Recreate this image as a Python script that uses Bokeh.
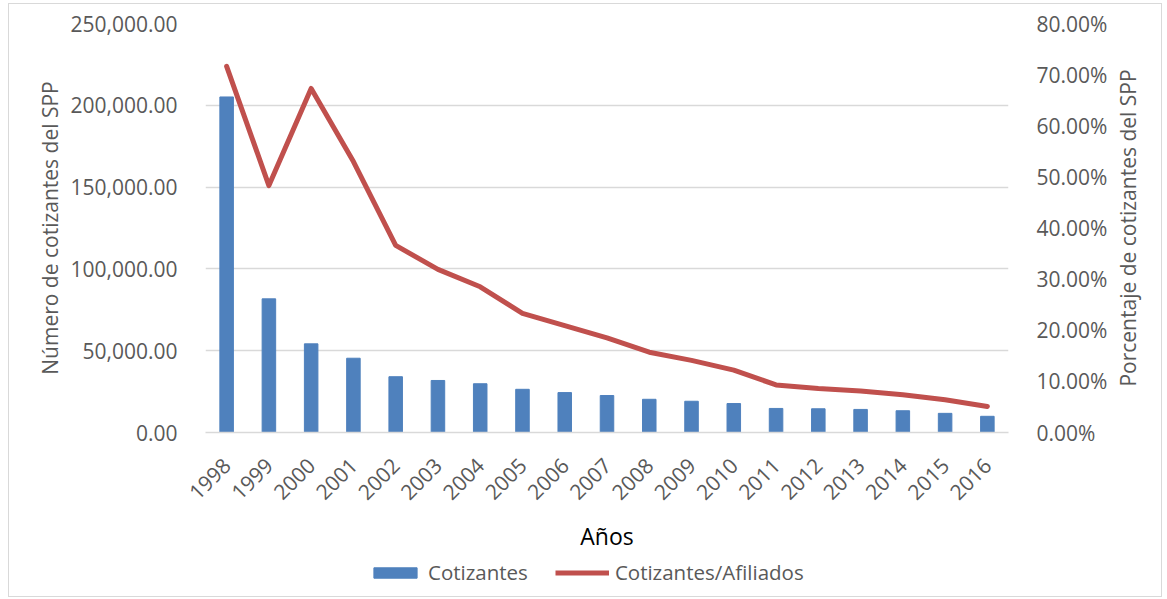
from math import pi

from bokeh.embed import file_html
from bokeh.resources import INLINE
from bokeh.plotting import figure
from bokeh.layouts import column, row
from bokeh.models import (
    Range1d, LinearAxis, FixedTicker, NumeralTickFormatter, Legend, LegendItem,
    ColumnDataSource, Label,
)

# Data: contributors of the private pension system (SPP) by year
years = ["1998", "1999", "2000", "2001", "2002", "2003", "2004", "2005", "2006", "2007",
         "2008", "2009", "2010", "2011", "2012", "2013", "2014", "2015", "2016"]
cotizantes = [205100, 81700, 54200, 45400, 34100, 31800, 29800, 26400, 24400, 22600,
              20300, 19100, 17700, 14700, 14500, 14100, 13300, 11700, 9900]
ratio_afiliados = [0.716, 0.483, 0.673, 0.530, 0.366, 0.319, 0.285, 0.233, 0.209, 0.185,
                   0.157, 0.141, 0.122, 0.093, 0.086, 0.081, 0.074, 0.064, 0.051]

left_ticks = [0, 50000, 100000, 150000, 200000, 250000]
right_ticks = [0.0, 0.1, 0.2, 0.3, 0.4, 0.5, 0.6, 0.7, 0.8]

FONT = "Open Sans"
TEXT = "#595959"
GRID = "#D9D9D9"
BLUE = "#4F81BD"
RED = "#C0504D"

MAIN_H = 550
TOP, BOTTOM = 19, 118

p = figure(
    width=1101, height=MAIN_H,
    x_range=years, y_range=Range1d(0, 250000),
    output_backend="svg", toolbar_location=None,
    min_border_left=196, min_border_right=101,
    min_border_top=TOP, min_border_bottom=BOTTOM,
)
p.x_range.range_padding = 0
p.outline_line_color = None
p.background_fill_color = "white"
p.border_fill_color = "white"

p.extra_y_ranges = {"pct": Range1d(0, 0.8)}

# Gridlines
p.xgrid.grid_line_color = None
p.ygrid.grid_line_color = GRID
p.ygrid.grid_line_width = 1.3
p.ygrid.ticker = FixedTicker(ticks=left_ticks)

# Left axis
ax_l = p.yaxis[0]
ax_l.ticker = FixedTicker(ticks=left_ticks)
ax_l.formatter = NumeralTickFormatter(format="0,0.00")
ax_l.axis_line_color = None
ax_l.major_tick_line_color = None
ax_l.minor_tick_line_color = None
ax_l.major_label_standoff = 22
ax_l.major_label_text_font = FONT
ax_l.major_label_text_font_size = "21px"
ax_l.major_label_text_color = TEXT
ax_l.axis_label = "Número de cotizantes del SPP"
ax_l.axis_label_text_font = FONT
ax_l.axis_label_text_font_size = "21px"
ax_l.axis_label_text_font_style = "normal"
ax_l.axis_label_text_color = TEXT
ax_l.axis_label_standoff = 3

# Right axis (percentage scale)
ax_r = LinearAxis(y_range_name="pct")
ax_r.ticker = FixedTicker(ticks=right_ticks)
ax_r.formatter = NumeralTickFormatter(format="0.00%")
ax_r.axis_line_color = None
ax_r.major_tick_line_color = None
ax_r.minor_tick_line_color = None
ax_r.major_label_standoff = 22
ax_r.major_label_text_font = FONT
ax_r.major_label_text_font_size = "21px"
ax_r.major_label_text_color = TEXT
p.add_layout(ax_r, "right")

# Bottom axis
ax_b = p.xaxis[0]
ax_b.axis_line_color = GRID
ax_b.axis_line_width = 1.5
ax_b.major_tick_line_color = None
ax_b.minor_tick_line_color = None
ax_b.major_label_orientation = pi / 4
ax_b.major_label_standoff = 23
ax_b.major_label_text_font = FONT
ax_b.major_label_text_font_size = "21px"
ax_b.major_label_text_color = TEXT
ax_b.axis_label = "Años"
ax_b.axis_label_text_font = FONT
ax_b.axis_label_text_font_size = "23px"
ax_b.axis_label_text_font_style = "normal"
ax_b.axis_label_text_color = "#000000"
ax_b.axis_label_standoff = 10

# Series
p.vbar(x=years, top=cotizantes, width=0.32, color=BLUE)
p.line(x=years, y=ratio_afiliados, y_range_name="pct", line_color=RED,
       line_width=5, line_join="round", line_cap="round")

# Right-hand title strip, text reading bottom to top
rt = figure(
    width=51, height=MAIN_H, x_range=Range1d(0, 1), y_range=Range1d(0, 0.8),
    output_backend="svg", toolbar_location=None,
    min_border=0, min_border_left=0, min_border_right=0,
    min_border_top=TOP, min_border_bottom=BOTTOM,
)
rt.axis.visible = False
rt.grid.visible = False
rt.outline_line_color = None
rt.add_layout(Label(
    x=0.35, y=0.4, text="Porcentaje de cotizantes del SPP", angle=pi / 2,
    text_align="center", text_baseline="middle",
    text_font=FONT, text_font_size="21px", text_color=TEXT,
))

# Legend strip under the chart
leg = figure(
    width=1152, height=42, x_range=Range1d(0, 1), y_range=Range1d(0, 1),
    output_backend="svg", toolbar_location=None,
    min_border=0, min_border_left=0, min_border_right=0,
    min_border_top=0, min_border_bottom=0,
)
leg.axis.visible = False
leg.grid.visible = False
leg.outline_line_color = None
# legend-only renderers kept outside the visible range
leg_bar = leg.vbar(x="x", top="y", width=0.3, color=BLUE,
                   source=ColumnDataSource(data=dict(x=[5], y=[5])))
leg_line = leg.line(x="x", y="y", line_color=RED, line_width=5,
                    source=ColumnDataSource(data=dict(x=[5, 6], y=[5, 5])))
legend = Legend(
    items=[LegendItem(label="Cotizantes", renderers=[leg_bar]),
           LegendItem(label="Cotizantes/Afiliados", renderers=[leg_line])],
    orientation="horizontal",
    location=(359, 10),
    padding=0, margin=0, spacing=27,
    glyph_width=54, glyph_height=13, label_standoff=6,
    label_text_font=FONT, label_text_font_size="20.5px", label_text_color=TEXT,
    border_line_color=None, background_fill_alpha=0,
)
leg.add_layout(legend, "center")

layout = column(row(p, rt, spacing=0), leg, margin=(3, 0, 0, 8), spacing=0)
layout.styles = {"border": "1px solid #D9D9D9", "box-sizing": "content-box"}

open("out.html", "w").write(file_html(layout, INLINE))
